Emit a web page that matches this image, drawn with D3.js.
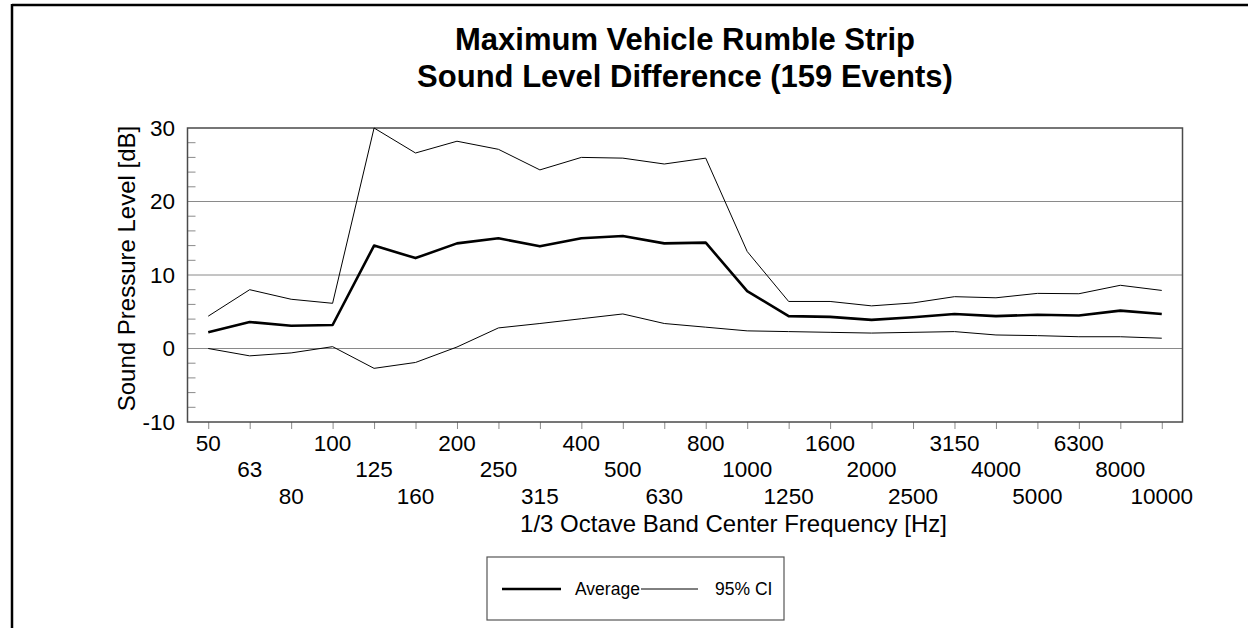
<!DOCTYPE html>
<html>
<head>
<meta charset="utf-8">
<script src="https://cdn.jsdelivr.net/npm/d3@7"></script>
<style>
  html, body { margin: 0; padding: 0; background: #fff; }
  svg { display: block; }
  text { font-family: "Liberation Sans", Arial, sans-serif; fill: #000; }
</style>
</head>
<body>
<svg id="chart" width="1248" height="628"></svg>
<script>
// ---- data ----
const frequencies = ["50","63","80","100","125","160","200","250","315","400","500","630","800","1000","1250","1600","2000","2500","3150","4000","5000","6300","8000","10000"];
const averageValues = [2.2, 3.6, 3.1, 3.2, 14.0, 12.3, 14.3, 15.0, 13.9, 15.0, 15.3, 14.3, 14.4, 7.8, 4.4, 4.3, 3.9, 4.25, 4.7, 4.4, 4.6, 4.5, 5.15, 4.7];
const upperCI = [4.4, 8.0, 6.7, 6.15, 30.0, 26.6, 28.2, 27.1, 24.3, 26.0, 25.9, 25.1, 25.9, 13.2, 6.4, 6.4, 5.8, 6.2, 7.05, 6.9, 7.5, 7.45, 8.6, 7.9];
const lowerCI = [0.0, -1.0, -0.6, 0.25, -2.7, -1.9, 0.2, 2.8, 3.4, 4.05, 4.7, 3.4, 2.9, 2.4, 2.3, 2.2, 2.1, 2.2, 2.3, 1.84, 1.75, 1.6, 1.6, 1.4];
const yTicks = [-10, 0, 10, 20, 30];
const yTickLabels = ["-10", "0", "10", "20", "30"];
const yGridValues = [0, 10, 20];
const yMinorTicks = [-8, -6, -4, -2, 2, 4, 6, 8, 12, 14, 16, 18, 22, 24, 26, 28];
const titleLines = ["Maximum Vehicle Rumble Strip", "Sound Level Difference (159 Events)"];
const xTitle = "1/3 Octave Band Center Frequency [Hz]";
const yTitle = "Sound Pressure Level [dB]";
const legendLabels = ["Average", "95% CI"];

// ---- layout ----
const svg = d3.select("#chart");
const plot = { left: 187.5, right: 1182.5, top: 128, bottom: 422 };

const x = d3.scalePoint().domain(frequencies).range([plot.left, plot.right]).padding(0.5);
const y = d3.scaleLinear().domain([-10, 30]).range([plot.bottom, plot.top]);

// outer frame (top and left)
svg.append("line").attr("x1", 12).attr("x2", 1248).attr("y1", 5).attr("y2", 5)
  .attr("stroke", "#000").attr("stroke-width", 2.5);
svg.append("line").attr("x1", 12).attr("x2", 12).attr("y1", 4).attr("y2", 628)
  .attr("stroke", "#000").attr("stroke-width", 2.5);

// title
svg.append("g").selectAll("text").data(titleLines).join("text")
  .attr("x", 685).attr("y", (d, i) => 50 + i * 37)
  .attr("text-anchor", "middle")
  .style("font-size", "31px").style("font-weight", "bold")
  .text(d => d);

// gridlines
svg.append("g").selectAll("line").data(yGridValues).join("line")
  .attr("x1", plot.left).attr("x2", plot.right)
  .attr("y1", d => y(d)).attr("y2", d => y(d))
  .attr("stroke", "#8a8a8a").attr("stroke-width", 1);

// minor y ticks (inside)
svg.append("g").selectAll("line").data(yMinorTicks).join("line")
  .attr("x1", plot.left).attr("x2", plot.left + 8)
  .attr("y1", d => y(d)).attr("y2", d => y(d))
  .attr("stroke", "#8a8a8a").attr("stroke-width", 1);

// x axis ticks (outside, below)
const xAxis = d3.axisBottom(x).tickSize(7).tickFormat("");
const gx = svg.append("g").attr("transform", `translate(0,${plot.bottom})`).call(xAxis);
gx.select(".domain").remove();
gx.selectAll(".tick line").attr("stroke", "#8a8a8a");

// staggered x labels
svg.append("g").selectAll("text").data(frequencies).join("text")
  .attr("x", d => x(d))
  .attr("y", (d, i) => 450.5 + (i % 3) * 26.5)
  .attr("text-anchor", "middle")
  .style("font-size", "22.5px")
  .text(d => d);

// y axis labels
const yAxis = d3.axisLeft(y).tickValues(yTicks).tickSize(0).tickPadding(12.5)
  .tickFormat((d, i) => yTickLabels[i]);
const gy = svg.append("g").attr("transform", `translate(${plot.left},0)`).call(yAxis);
gy.select(".domain").remove();
gy.selectAll("text").style("font-size", "22.5px").style("font-family", '"Liberation Sans", Arial, sans-serif').attr("fill", "#000");

// plot border
svg.append("rect")
  .attr("x", plot.left).attr("y", plot.top)
  .attr("width", plot.right - plot.left).attr("height", plot.bottom - plot.top)
  .attr("fill", "none").attr("stroke", "#4a4a4a").attr("stroke-width", 1.5);

// series lines
const line = d3.line().x((d, i) => x(frequencies[i])).y(d => y(d));
svg.append("path").datum(upperCI).attr("d", line)
  .attr("fill", "none").attr("stroke", "#000").attr("stroke-width", 1);
svg.append("path").datum(lowerCI).attr("d", line)
  .attr("fill", "none").attr("stroke", "#000").attr("stroke-width", 1);
svg.append("path").datum(averageValues).attr("d", line)
  .attr("fill", "none").attr("stroke", "#000").attr("stroke-width", 2.6)
  .attr("stroke-linejoin", "round");

// axis titles
svg.append("text").attr("x", 733.5).attr("y", 532).attr("text-anchor", "middle")
  .style("font-size", "24px").text(xTitle);
svg.append("text").attr("transform", "translate(135,268.5) rotate(-90)")
  .attr("text-anchor", "middle").style("font-size", "24px").text(yTitle);

// legend
const lg = svg.append("g");
lg.append("rect").attr("x", 487).attr("y", 557).attr("width", 297).attr("height", 63)
  .attr("fill", "#fff").attr("stroke", "#555").attr("stroke-width", 1.2);
lg.append("line").attr("x1", 502).attr("x2", 561).attr("y1", 589).attr("y2", 589)
  .attr("stroke", "#000").attr("stroke-width", 2.6);
lg.append("text").attr("x", 575).attr("y", 595).style("font-size", "17.5px").text(legendLabels[0]);
lg.append("line").attr("x1", 641).attr("x2", 698).attr("y1", 589).attr("y2", 589)
  .attr("stroke", "#000").attr("stroke-width", 1);
lg.append("text").attr("x", 715).attr("y", 595).style("font-size", "17.5px").text(legendLabels[1]);
</script>
</body>
</html>
